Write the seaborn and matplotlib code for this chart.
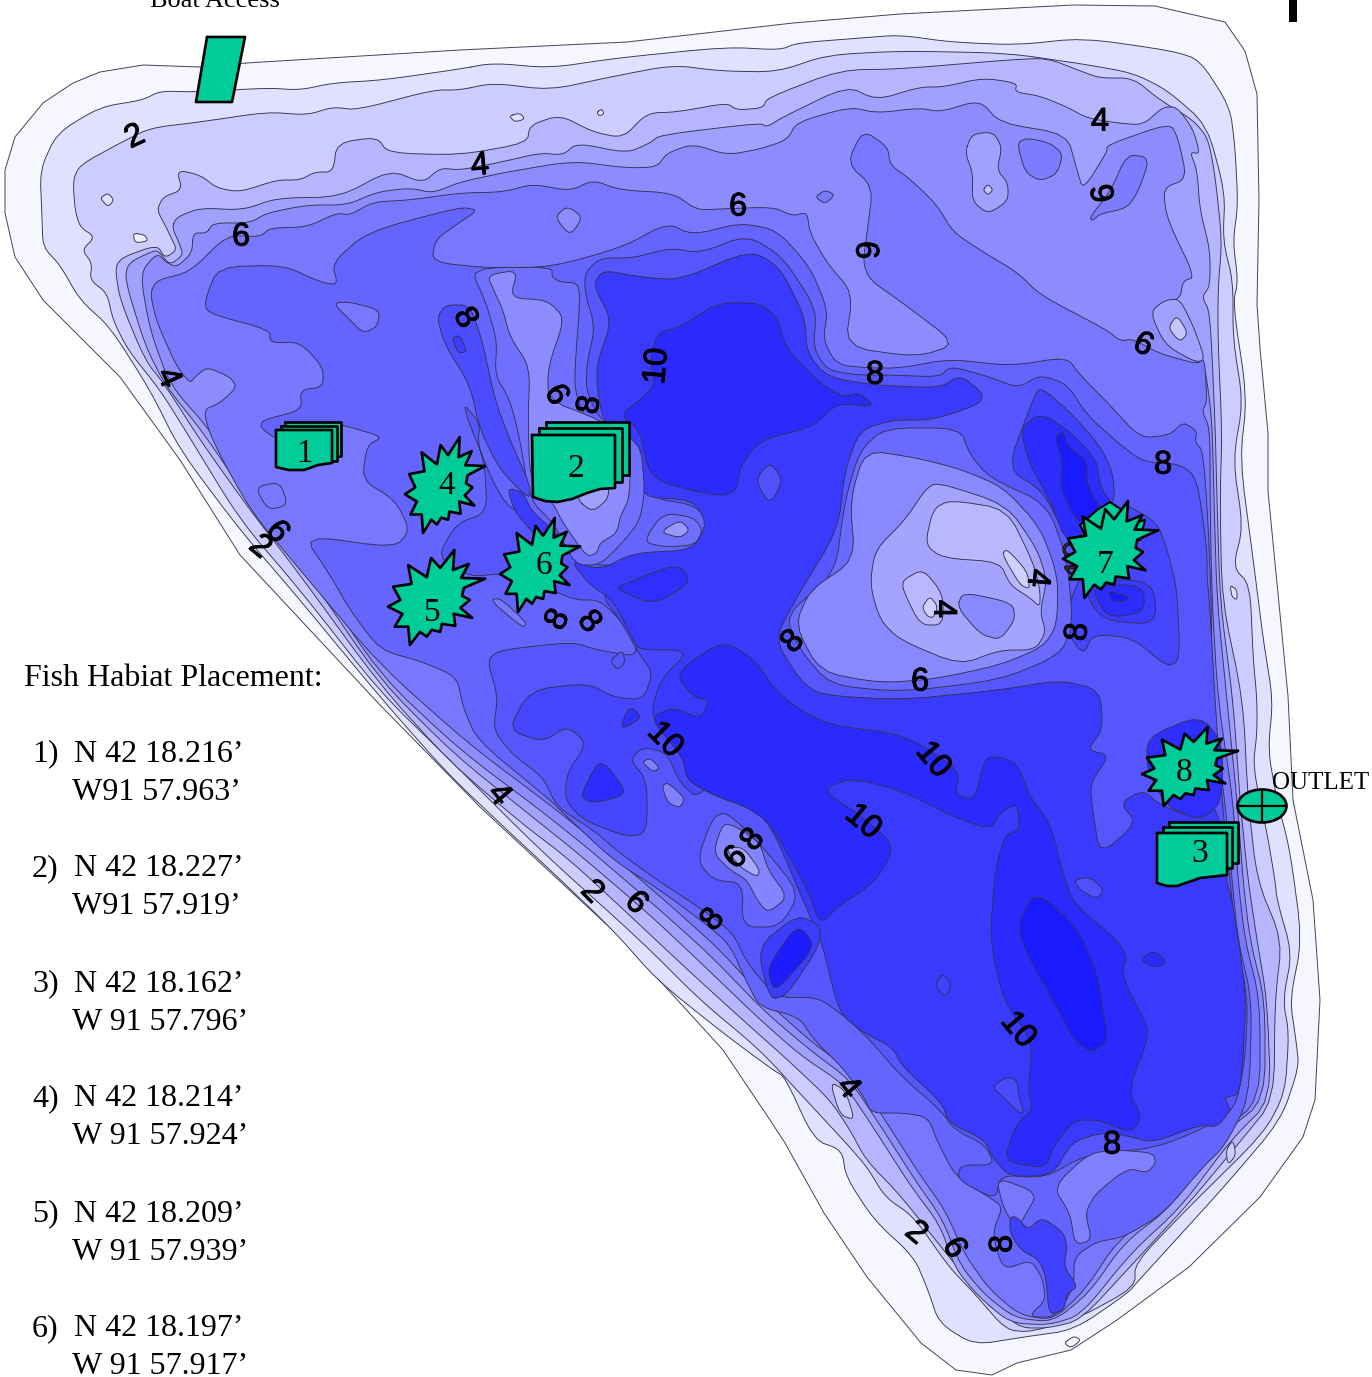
import matplotlib
matplotlib.use("Agg")
import matplotlib.pyplot as plt
import matplotlib.patheffects as pe
from matplotlib.patches import Ellipse
import seaborn as sns

sns.set_theme(style="white")
W, H = 1372, 1377
fig = plt.figure(figsize=(W / 100, H / 100), dpi=100)
ax = fig.add_axes([0, 0, 1, 1])
ax.set_xlim(0, W)
ax.set_ylim(H, 0)
ax.axis("off")

# ---- depth contours (outline points, px) ----
shore = [(246,63),(460,50),(627,42),(793,23),(900,14),(1073,5),(1155,6),(1225,22),(1245,51),(1257,94),(1259,201),(1257,304),(1260,348),(1268,433),(1268,491),(1288,696),(1293,800),(1313,900),(1320,1000),(1315,1100),(1303,1137),(1260,1197),(1189,1267),(1117,1320),(1071,1350),(1017,1363),(992,1375),(956,1370),(921,1343),(867,1277),(824,1213),(785,1143),(770,1120),(723,1050),(620,937),(480,807),(380,705),(240,555),(180,460),(120,377),(43,300),(15,257),(5,213),(5,170),(15,137),(43,103),(73,83),(100,72),(143,65),(200,67)]
d1 = [(460,69),(493,63),(550,68),(617,58),(727,47),(780,50),(797,43),(860,38),(900,35),(950,42),(1017,45),(1083,38),(1173,51),(1200,60),(1230,107),(1235,147),(1238,205),(1233,241),(1238,281),(1233,304),(1247,397),(1240,460),(1253,558),(1263,638),(1273,700),(1268,750),(1277,800),(1290,850),(1302,940),(1290,1000),(1296,1040),(1299,1067),(1281,1120),(1224,1187),(1139,1280),(1128,1293),(1074,1330),(1024,1337),(974,1345),(939,1323),(928,1290),(914,1257),(874,1220),(846,1177),(842,1150),(814,1140),(785,1077),(773,1070),(723,1033),(657,980),(613,930),(547,867),(507,830),(447,773),(380,697),(300,600),(240,530),(180,450),(150,390),(110,327),(80,300),(60,265),(43,247),(42,217),(40,170),(57,133),(100,107),(143,100),(160,91),(197,92),(267,88),(300,90),(333,83),(383,80)]
d2 = [(460,90),(493,83),(550,90),(610,77),(673,65),(720,71),(777,72),(827,55),(900,51),(1007,53),(1083,64),(1133,73),(1167,90),(1207,125),(1225,192),(1223,241),(1233,281),(1233,339),(1243,402),(1233,460),(1243,527),(1233,567),(1250,585),(1253,656),(1257,700),(1257,733),(1253,767),(1267,833),(1275,880),(1277,900),(1292,953),(1283,1000),(1289,1033),(1285,1093),(1264,1133),(1189,1207),(1135,1263),(1135,1287),(1081,1317),(1031,1332),(1006,1330),(974,1293),(949,1267),(914,1217),(885,1197),(867,1167),(846,1143),(806,1100),(760,1050),(700,1000),(640,940),(540,850),(450,760),(380,692),(300,590),(240,520),(187,433),(160,390),(128,350),(113,320),(107,293),(90,280),(92,263),(82,250),(95,237),(80,227),(75,210),(73,180),(80,165),(120,143),(150,128),(200,122),(267,112),(307,115),(333,107),(357,110),(433,90)]
d3 = [(460,155),(527,143),(530,125),(560,115),(593,132),(623,138),(647,113),(677,112),(727,103),(737,110),(763,108),(767,98),(840,70),(900,69),(1007,60),(1047,58),(1083,72),(1100,78),(1133,78),(1160,100),(1193,120),(1208,138),(1215,175),(1222,240),(1218,290),(1218,340),(1222,433),(1220,500),(1222,600),(1243,700),(1248,800),(1257,880),(1282,940),(1275,1000),(1274,1100),(1239,1143),(1189,1203),(1139,1257),(1081,1320),(1049,1328),(1021,1328),(999,1310),(971,1283),(949,1257),(900,1195),(866,1160),(850,1130),(830,1100),(790,1062),(745,1022),(690,972),(640,925),(570,860),(520,822),(450,762),(380,685),(300,575),(250,510),(200,440),(165,385),(145,360),(120,300),(115,267),(123,257),(157,245),(165,258),(177,250),(170,235),(165,225),(157,210),(163,197),(182,190),(177,170),(200,175),(217,188),(240,192),(277,180),(300,180),(315,172),(333,172),(337,143),(377,137),(388,153)]
d4 = [(172,227),(177,217),(200,208),(243,210),(277,198),(340,197),(390,170),(423,183),(440,168),(460,170),(497,163),(540,153),(563,155),(577,143),(627,153),(650,143),(660,135),(760,123),(767,127),(783,117),(847,86),(877,100),(920,87),(943,87),(983,78),(1017,83),(1015,92),(1040,96),(1067,107),(1087,118),(1117,123),(1143,125),(1163,107),(1177,107),(1193,129),(1200,154),(1190,152),(1197,170),(1200,210),(1210,250),(1210,286),(1202,297),(1210,312),(1215,420),(1217,500),(1220,600),(1233,700),(1240,800),(1248,880),(1257,940),(1267,1000),(1271,1100),(1231,1140),(1181,1207),(1131,1253),(1081,1315),(1049,1325),(1010,1323),(978,1296),(955,1268),(940,1225),(910,1185),(875,1130),(845,1085),(800,1055),(755,1015),(700,962),(650,915),(580,855),(530,815),(455,755),(380,680),(305,570),(255,510),(205,435),(165,385),(145,345),(125,280),(128,263),(155,250),(160,253),(170,265),(183,255),(180,245)]
d5 = [(207,233),(213,223),(250,223),(267,213),(307,205),(347,205),(377,192),(410,188),(433,193),(460,182),(507,172),(573,161),(627,168),(657,167),(667,153),(693,144),(727,155),(760,149),(787,140),(797,122),(850,107),(877,113),(920,108),(940,112),(980,100),(1000,123),(1067,134),(1077,170),(1083,190),(1107,152),(1107,145),(1170,123),(1178,138),(1187,179),(1163,188),(1167,219),(1195,277),(1183,281),(1180,299),(1150,312),(1167,344),(1197,362),(1205,366),(1212,420),(1214,500),(1217,600),(1227,700),(1237,800),(1243,880),(1250,940),(1265,1000),(1265,1100),(1224,1133),(1171,1207),(1124,1243),(1089,1293),(1053,1322),(1015,1318),(985,1295),(960,1265),(943,1220),(915,1180),(880,1125),(850,1080),(810,1050),(765,1012),(710,955),(660,910),(590,850),(540,810),(460,750),(380,675),(308,565),(258,505),(210,430),(170,385),(150,330),(140,273),(157,253),(167,263),(177,267),(192,253),(193,233)]
d6 = [(150,293),(157,280),(190,272),(227,235),(260,237),(270,228),(307,227),(337,213),(350,215),(373,202),(410,200),(460,193),(503,192),(533,184),(570,191),(593,180),(620,190),(673,193),(697,210),(720,209),(773,207),(793,216),(807,212),(810,233),(827,263),(853,293),(845,347),(917,357),(957,344),(900,301),(870,280),(863,263),(867,233),(873,187),(847,163),(863,130),(888,147),(890,165),(910,179),(937,205),(953,232),(983,252),(1017,272),(1040,295),(1107,330),(1120,341),(1133,339),(1158,353),(1197,364),(1203,359),(1205,366),(1207,402),(1202,411),(1210,429),(1210,500),(1212,600),(1218,700),(1233,800),(1238,880),(1245,940),(1260,1000),(1260,1100),(1220,1133),(1165,1207),(1118,1240),(1085,1290),(1053,1320),(1020,1315),(990,1290),(965,1255),(945,1210),(920,1175),(885,1120),(855,1073),(815,1045),(770,1005),(720,950),(670,905),(600,845),(550,805),(470,745),(380,665),(300,570),(250,510),(212,440),(203,410),(220,403),(237,387),(230,377),(207,367),(195,377),(190,383),(177,367),(157,323)]
d7 = [(218,267),(283,265),(320,282),(338,285),(332,263),(367,232),(460,207),(478,210),(460,222),(435,240),(432,262),(487,268),(552,267),(623,247),(667,223),(693,235),(740,223),(777,230),(810,267),(828,310),(823,340),(837,365),(870,368),(900,368),(950,359),(1010,366),(1067,357),(1080,375),(1107,402),(1140,438),(1170,435),(1183,422),(1197,431),(1195,442),(1203,451),(1208,520),(1212,620),(1210,700),(1225,800),(1232,880),(1238,940),(1252,1000),(1249,1100),(1224,1147),(1203,1167),(1164,1213),(1124,1237),(1096,1242),(1074,1257),(1074,1287),(1056,1317),(1028,1317),(1046,1300),(1042,1277),(1031,1260),(1003,1270),(992,1233),(1003,1207),(989,1197),(956,1177),(938,1143),(928,1117),(903,1113),(871,1113),(864,1097),(842,1067),(814,1040),(799,1017),(760,1007),(748,985),(730,945),(707,925),(660,890),(613,860),(563,813),(550,800),(477,740),(463,707),(457,677),(423,662),(380,650),(350,610),(330,575),(303,535),(395,548),(410,530),(395,500),(362,480),(367,445),(383,437),(350,427),(340,425),(310,440),(277,440),(260,427),(263,420),(302,410),(300,390),(323,387),(323,367),(300,342),(270,343),(270,330),(207,313),(205,300)]
d8 = [(585,273),(600,258),(633,258),(670,248),(700,253),(747,235),(783,257),(817,310),(813,347),(827,370),(857,375),(890,375),(940,377),(950,366),(990,377),(1018,388),(1040,375),(1067,384),(1087,415),(1117,442),(1143,462),(1180,464),(1197,478),(1207,549),(1207,576),(1210,610),(1215,700),(1222,800),(1230,880),(1236,940),(1248,1000),(1245,1060),(1235,1110),(1200,1130),(1155,1148),(1085,1155),(1045,1178),(1000,1175),(996,1200),(958,1180),(960,1165),(995,1165),(985,1145),(955,1130),(940,1110),(900,1075),(870,1040),(843,1015),(817,997),(777,998),(747,963),(733,933),(703,910),(657,880),(620,853),(593,830),(557,807),(543,777),(513,755),(493,730),(498,697),(487,660),(500,650),(573,642),(597,650),(640,657),(625,625),(600,600),(575,600),(540,585),(505,573),(470,577),(437,557),(457,523),(487,513),(485,467),(478,443),(480,423),(460,400),(500,500),(530,520),(560,540),(590,565),(620,565),(690,555),(710,525),(695,505),(650,498),(640,445),(600,420),(586,390),(587,363),(595,327),(585,293)]
d8b = [(508,730),(530,690),(587,683),(613,697),(643,700),(653,673),(640,655),(620,620),(600,593),(640,560),(700,600),(780,700),(700,800),(680,783),(667,753),(643,747),(630,760),(647,780),(647,833),(627,837),(583,820),(565,800),(567,773),(587,743),(567,726),(543,742)]
d9 = [(593,285),(603,270),(640,277),(680,280),(750,250),(780,267),(805,317),(807,353),(827,377),(873,385),(940,388),(960,375),(983,393),(980,404),(933,420),(893,420),(860,430),(845,470),(838,530),(795,600),(775,640),(800,680),(820,695),(900,700),(1000,690),(1060,680),(1100,690),(1103,730),(1087,750),(1110,755),(1090,783),(1093,813),(1100,855),(1137,823),(1120,803),(1143,790),(1160,805),(1200,820),(1218,805),(1226,880),(1232,900),(1240,950),(1246,1000),(1243,1060),(1239,1095),(1224,1097),(1231,1110),(1217,1127),(1199,1125),(1153,1143),(1124,1135),(1099,1133),(1071,1143),(1053,1175),(1010,1177),(992,1157),(985,1140),(949,1123),(942,1103),(903,1067),(892,1047),(864,1033),(839,1013),(823,947),(817,933),(805,905),(770,823),(747,807),(713,795),(687,780),(683,757),(650,718),(660,680),(690,650),(640,650),(633,640),(613,600),(590,585),(570,560),(600,570),(633,553),(693,550),(707,523),(693,500),(640,497),(633,453),(603,420),(597,387),(597,363),(612,320)]
d10_north = [(657,333),(680,327),(717,303),(760,303),(777,317),(787,350),(820,383),(843,397),(860,393),(875,407),(837,403),(813,427),(760,440),(740,467),(737,490),(720,497),(650,480),(640,430),(620,415),(640,400),(655,385),(650,360)]
d10_south = [(675,673),(723,640),(755,660),(775,690),(800,710),(830,725),(905,735),(960,770),(955,795),(975,800),(985,757),(1000,757),(1017,763),(1030,797),(1050,823),(1063,873),(1073,903),(1117,940),(1127,957),(1122,973),(1133,1000),(1151,1032),(1128,1090),(1142,1117),(1131,1133),(1099,1120),(1074,1120),(1053,1147),(1046,1168),(1010,1163),(1006,1153),(1017,1123),(1033,1110),(1028,1090),(1033,1043),(1003,1000),(990,940),(995,870),(1005,835),(1020,830),(1017,803),(1000,813),(990,830),(950,815),(900,790),(850,778),(822,790),(860,815),(895,845),(880,875),(860,893),(840,905),(820,925),(808,890),(770,823),(747,807),(713,795),(687,780),(683,757),(650,718),(673,707),(700,719),(710,700),(693,697)]
deep_lobe = [(1017,927),(1035,890),(1077,927),(1097,973),(1103,1010),(1108,1040),(1092,1053),(1074,1040),(1053,1000),(1030,960)]

# ---- central island ----
isle_a = [(860,450),(885,428),(960,428),(970,455),(990,478),(1047,504),(1067,558),(1073,625),(1060,655),(1000,680),(900,692),(830,685),(800,650),(785,615),(835,575),(845,500)]
isle_b = [(865,450),(917,458),(960,469),(1003,487),(1040,527),(1058,576),(1057,625),(1043,647),(1000,665),(935,679),(880,683),(820,672),(795,625),(810,590),(855,560),(850,500)]
isle_c = [(870,585),(875,550),(905,520),(925,490),(937,482),(1007,505),(1037,549),(1047,580),(1040,612),(1046,632),(1035,650),(1000,650),(960,665),(900,640),(880,620)]
isle_d = [(957,607),(963,592),(1013,603),(1015,620),(1000,640),(980,634)]
isle_e = [(925,545),(933,509),(950,500),(1007,509),(1033,562),(1040,590),(1040,607),(1030,598),(1010,585),(1000,562),(943,558)]
isle_f = [(903,580),(923,569),(943,594),(943,625),(920,625),(903,590)]
isle_g = [(922,607),(930,596),(938,607),(933,618),(927,616)]
isle_h = [(1002,554),(1007,549),(1027,571),(1030,589),(1020,585)]

# ---- east basin ----
east_se = [(1117,500),(1157,522),(1167,549),(1177,589),(1180,660),(1167,667),(1133,638),(1093,634),(1083,656),(1060,620)]
east_a = [(1007,469),(1032,402),(1040,386),(1073,415),(1100,446),(1113,473),(1115,505),(1065,535),(1043,491)]
east_b = [(1020,429),(1040,413),(1067,429),(1097,460),(1100,487),(1113,505),(1100,520),(1067,545),(1050,500),(1030,465)]
east_c = [(1055,437),(1063,431),(1067,446),(1087,460),(1087,487),(1107,518),(1080,527),(1060,487),(1063,464)]
south7_a = [(1080,580),(1153,580),(1157,625),(1100,620)]
south7_b = [(1090,585),(1143,585),(1145,612),(1107,618)]
south7_c = [(1107,590),(1133,598),(1113,603)]

# ---- habitat-2 shoal ----
shoal_ring = [(470,268),(552,267),(552,277),(560,282),(578,283),(580,300),(575,367),(575,390),(585,420),(640,440),(645,490),(640,520),(625,540),(600,565),(575,565),(555,525),(530,500),(520,440),(510,400),(495,375),(497,340),(485,300)]
shoal = [(487,275),(518,270),(510,298),(547,300),(565,318),(548,367),(548,400),(600,420),(630,440),(630,497),(620,517),(617,533),(600,543),(597,553),(587,557),(563,523),(553,503),(530,480),(528,420),(530,367),(510,337),(503,310),(495,293)]
shoal_in = [(577,500),(593,512),(610,497),(605,470),(580,470)]
strip8 = [(437,318),(445,305),(470,305),(482,340),(495,400),(510,440),(530,485),(530,500),(500,470),(480,430),(470,385),(445,345)]
pond8 = [(452,338),(460,335),(467,352),(458,353)]
strip9 = [(507,488),(523,492),(532,512),(560,535),(560,555),(535,535),(515,512)]

# ---- other patches ----
blob_a = [(965,152),(972,134),(993,132),(1002,147),(997,170),(1008,183),(1008,201),(988,214),(972,201),(973,174)]
blob_a2 = [(983,190),(988,184),(993,190),(988,195)]
blob_b = [(1017,143),(1027,138),(1050,143),(1063,154),(1057,174),(1040,181),(1025,172)]
blob_c = [(1127,154),(1150,158),(1138,192),(1127,208),(1100,214),(1092,221),(1090,217),(1110,192)]
knob_a = [(1150,312),(1165,300),(1180,299),(1195,330),(1205,360),(1195,362),(1165,345)]
knob_b = [(1168,328),(1177,315),(1188,333),(1180,342)]
dot_a = [(100,198),(108,193),(114,200),(108,207)]
dot_b = [(133,233),(145,235),(148,241),(135,243)]
dot_c = [(509,116),(520,113),(525,119),(515,122)]
dot_d = [(597,112),(602,109),(604,114),(599,116)]
hill_a = [(555,217),(567,206),(583,217),(570,236)]
hill_b = [(815,197),(825,190),(835,195),(825,204)]
west_a = [(333,303),(350,302),(380,310),(377,327),(363,333),(350,320)]
west_b = [(255,487),(280,482),(288,505),(268,510)]
mid_a = [(755,480),(770,462),(783,480),(770,505)]
ring_a = [(643,542),(663,513),(693,517),(703,530),(695,545),(665,547)]
ring_b = [(660,532),(680,520),(690,530),(680,538)]
blue_a = [(617,587),(677,563),(692,582),(653,605),(620,590)]
west_c = [(490,600),(500,598),(527,623),(523,628)]
west_d = [(610,660),(623,650),(625,663),(617,670)]
pond_a = [(580,797),(597,763),(607,765),(625,790),(620,797),(593,803)]
pond_b = [(620,730),(627,710),(633,708),(642,718)]
knot_a = [(642,762),(650,758),(660,768),(653,772)]
knot_b = [(662,787),(667,782),(685,798),(680,808),(668,803)]
hump_a = [(697,860),(713,817),(727,812),(763,847),(800,893),(780,927),(742,927),(743,883),(713,880)]
hump_b = [(713,853),(723,823),(737,827),(760,843),(768,870),(788,897),(768,913),(757,900),(747,880),(730,870)]
hump_c = [(725,848),(743,847),(760,870),(757,877),(740,867)]
pit_a = [(757,947),(797,915),(820,925),(820,945),(787,995),(770,1000)]
pit_b = [(767,968),(793,930),(803,929),(815,947),(780,987),(773,988)]
oval_a = [(935,985),(943,973),(952,985),(945,998)]
oval_b = [(1140,960),(1153,950),(1167,962),(1157,968)]
oval_c = [(1074,880),(1090,877),(1104,890),(1097,899),(1080,890)]
lobe_a = [(992,1087),(1006,1077),(1017,1080),(1019,1097),(1024,1112),(1019,1113),(1003,1097)]
pond_8 = [(1147,737),(1200,715),(1223,743),(1222,803),(1200,820),(1167,807),(1147,770)]
south_a = [(1053,1187),(1089,1153),(1120,1150),(1153,1153),(1156,1163),(1147,1173),(1128,1168),(1096,1193),(1085,1213),(1092,1240),(1075,1245),(1070,1213)]
south_b = [(996,1177),(1038,1193),(1024,1217),(1017,1230),(1003,1207)]
south_c = [(1010,1217),(1017,1217),(1028,1230),(1042,1217),(1064,1233),(1067,1247),(1064,1267),(1078,1287),(1067,1293),(1064,1310),(1049,1315),(1046,1277),(1039,1260),(1021,1250),(1010,1233)]
pale_a = [(1064,1343),(1074,1336),(1081,1340),(1071,1348)]
pale_b = [(830,1082),(845,1090),(855,1120),(840,1115)]
pale_c = [(1226,1150),(1233,1140),(1236,1155),(1228,1165)]
pale_d = [(1230,585),(1237,590),(1237,600),(1232,597)]

contours = [
    (d1, "#e0e0ff"), (d2, "#ccccff"), (d3, "#b6b6ff"),
    (d4, "#a0a0ff"), (d5, "#8c8cff"), (d6, "#7878ff"), (d7, "#6464ff"),
    (west_a, "#7878ff"), (west_b, "#7878ff"), (hill_a, "#8c8cff"), (hill_b, "#7878ff"),
    (blob_a, "#a0a0ff"), (blob_a2, "#c4c4ff"), (blob_b, "#7c7cff"), (blob_c, "#7c7cff"),
    (knob_a, "#a0a0ff"), (knob_b, "#c4c4ff"), (dot_a, "#e0e0ff"), (dot_b, "#eeeeff"),
    (dot_c, "#e0e0ff"), (dot_d, "#e0e0ff"), (pale_a, "#f6f6ff"), (pale_b, "#ccccff"),
    (pale_c, "#ccccff"), (pale_d, "#e0e0ff"),
    (d8, "#5656ff"), (d8b, "#4646ff"), (east_se, "#4646ff"), (d9, "#3a3aff"),
    (d10_north, "#2a2aff"), (d10_south, "#2a2aff"), (deep_lobe, "#1a1aff"),
    (isle_a, "#6a6aff"), (isle_b, "#8888ff"), (isle_c, "#a4a4ff"), (isle_d, "#8888ff"),
    (isle_e, "#b8b8ff"), (isle_f, "#b8b8ff"), (isle_g, "#d0d0ff"), (isle_h, "#d0d0ff"),
    (east_a, "#4040ff"), (east_b, "#2c2cff"), (east_c, "#1a1aff"),
    (south7_a, "#3a3aff"), (south7_b, "#2c2cff"), (south7_c, "#1a1aff"),
    (shoal_ring, "#7070ff"), (shoal, "#8c8cff"), (shoal_in, "#a0a0ff"),
    (strip8, "#4c4cff"), (pond8, "#3c3cff"), (strip9, "#3c3cff"),
    (mid_a, "#5050ff"), (ring_a, "#7070ff"), (ring_b, "#9898ff"), (blue_a, "#2e2eff"),
    (west_c, "#7878ff"), (west_d, "#5656ff"), (pond_a, "#2c2cff"), (pond_b, "#3030ff"),
    (knot_a, "#8080ff"), (knot_b, "#8080ff"), (hump_a, "#6666ff"), (hump_b, "#8484ff"),
    (hump_c, "#a8a8ff"), (pit_a, "#3c3cff"), (pit_b, "#1c1cff"), (oval_a, "#4040ff"),
    (oval_b, "#2a2aff"), (oval_c, "#5050ff"), (lobe_a, "#4a4aff"), (pond_8, "#2e2eff"),
    (south_a, "#8080ff"), (south_b, "#7878ff"), (south_c, "#4040ff"),
]

# ---- habitat markers ----
boat_ramp = [(207,37),(245,37),(232,102),(196,102)]
stack_1 = [[(285,422),(341,422),(341,456),(285,456)], [(281,426),(337,426),(337,461),(281,461)], [(276,430),(332,430),(332,463),(318,465),(304,470),(289,470),(276,467)]]
stack_2 = [[(546,422),(629,422),(629,475),(546,475)], [(539,428),(622,428),(622,482),(539,482)], [(532,435),(615,435),(615,488),(600,489),(587,493),(572,499),(557,502),(545,501),(533,497)]]
stack_3 = [[(1169,822),(1238,822),(1238,863),(1169,863)], [(1163,827),(1232,827),(1232,868),(1163,868)], [(1157,833),(1227,833),(1227,875),(1200,878),(1177,886),(1167,886),(1157,883)]]
burst_shape = [(713,152),(642,150),(665,115),(618,130),(622,80),(580,125),(553,100),(540,148),(485,118),(495,165),(440,172),(462,205),(425,222),(468,240),(445,272),(485,272),(490,318),(520,285),(540,297),(555,280),(580,285),(585,265),(625,270),(620,240),(675,250),(640,225),(668,205),(645,195),(650,175)]
burst_boxes = [(405,437,485,533), (388,550,485,645), (500,518,580,612), (1063,501,1158,598), (1142,727,1238,806)]
burst_names = ["4", "5", "6", "7", "8"]
burst_text_xy = [(447,486), (432,613), (544,566), (1105,565), (1184,773)]
behind_7 = [(1097,510),(1110,502),(1122,510),(1125,525),(1145,520),(1140,540),(1085,535),(1080,525)]
stack_names = ["1", "2", "3"]
stack_text_xy = [(304,454), (576,469), (1200,854)]

# ---- depth labels ----
depth_text = ["2","4","6","6","4","6","6","8","6","4","10","6","8","8","8","8","4","4","8","6","10","10","10","10","6","2","8","8","4","2","6","8","6","8","4","8","2","6","8"]
depth_x = [135,480,241,738,1100,1105,865,465,1143,168,657,556,590,875,1163,793,1037,943,1078,920,933,863,665,1018,277,260,558,589,499,592,636,713,736,753,848,1112,916,954,1003]
depth_y = [137,166,237,207,122,193,250,318,345,378,366,395,405,375,465,642,578,609,632,682,760,822,740,1030,532,547,620,622,795,892,903,920,858,840,1088,1145,1233,1248,1244]
depth_rot = [25,5,0,0,0,100,-90,-60,-25,-65,85,-60,80,0,0,45,-95,-90,85,0,-50,-40,-45,-50,-50,-40,60,-50,-50,-45,-45,50,45,50,-50,0,-40,-60,90]

# ---- text block ----
heading = "Fish Habiat Placement:"
entry_num = ["1)", "2)", "3)", "4)", "5)", "6)"]
entry_lat = ["N 42 18.216’", "N 42 18.227’", "N 42 18.162’", "N 42 18.214’", "N 42 18.209’", "N 42 18.197’"]
entry_lon = ["W91 57.963’", "W91 57.919’", "W 91 57.796’", "W 91 57.924’", "W 91 57.939’", "W 91 57.917’"]
entry_y = [754, 869, 984, 1099, 1214, 1329]
entry_lon_y = [792, 907, 1022, 1137, 1252, 1367]


def soften(points, rounds=2):
    """Round off polygon corners for drawing."""
    pts = list(points)
    for _ in range(rounds):
        out = []
        for i, (x0, y0) in enumerate(pts):
            x1, y1 = pts[(i + 1) % len(pts)]
            out.append((0.8 * x0 + 0.2 * x1, 0.8 * y0 + 0.2 * y1))
            out.append((0.2 * x0 + 0.8 * x1, 0.2 * y0 + 0.8 * y1))
        pts = out
    return pts


def outline(points, color, lw, z):
    xs = [p[0] for p in points] + [points[0][0]]
    ys = [p[1] for p in points] + [points[0][1]]
    sns.lineplot(x=xs, y=ys, sort=False, estimator=None, color=color, linewidth=lw, ax=ax, zorder=z, legend=False)


ax.fill([p[0] for p in shore], [p[1] for p in shore], color="#f6f6ff", lw=0, zorder=0.9)
outline(shore, "#444455", 0.7, 0.95)
z = 1.0
for pts, col in contours:
    smooth = soften(pts)
    ax.fill([p[0] for p in smooth], [p[1] for p in smooth], color=col, lw=0, zorder=z)
    outline(smooth, "#33334d", 0.65, z + 0.001)
    z += 0.01

GREEN = "#00cc99"


def marker(points, z=10, lw=1.9):
    ax.fill([p[0] for p in points], [p[1] for p in points], color=GREEN, lw=0, zorder=z)
    outline(points, "black", lw, z + 0.001)


marker(boat_ramp)
for stack in (stack_1, stack_2, stack_3):
    for i, sheet in enumerate(stack):
        marker(sheet, z=10 + 0.01 * i)

marker(behind_7, z=9.5, lw=1.5)
xs0 = [p[0] for p in burst_shape]
ys0 = [p[1] for p in burst_shape]
for (x0, y0, x1, y1) in burst_boxes:
    sx = (x1 - x0) / (max(xs0) - min(xs0))
    sy = (y1 - y0) / (max(ys0) - min(ys0))
    marker([(x0 + (a - min(xs0)) * sx, y0 + (b - min(ys0)) * sy) for a, b in burst_shape], z=10.2)

SANS = "Liberation Sans"
SERIF = "Liberation Serif"
heavy = [pe.withStroke(linewidth=0.7, foreground="black")]
for t, x, y, r in zip(depth_text, depth_x, depth_y, depth_rot):
    ax.text(x, y, t, fontsize=23.5, family=SANS, color="black", rotation=r,
            rotation_mode="anchor", ha="center", va="center", zorder=9, path_effects=heavy)
ax.text(1078, 558, "10", fontsize=23.5, family=SANS, rotation=95, rotation_mode="anchor",
        ha="center", va="center", zorder=9, path_effects=heavy)

for t, (x, y) in zip(stack_names + burst_names, stack_text_xy + burst_text_xy):
    ax.text(x, y, t, fontsize=24, family=SERIF, color="black", ha="center", va="center", zorder=11)

outlet = Ellipse((1262, 806), 49, 33, facecolor=GREEN, edgecolor="black", lw=1.9, zorder=10)
ax.add_patch(outlet)
sns.lineplot(x=[1238, 1286], y=[806, 806], color="black", linewidth=1.6, ax=ax, zorder=11)
sns.lineplot(x=[1262, 1262], y=[790, 822], sort=False, estimator=None, color="black", linewidth=1.6, ax=ax, zorder=11)
ax.text(1272, 783, "OUTLET", fontsize=18, family=SERIF, color="black", ha="left", va="center", zorder=11)

ax.text(215, 1, "Boat Access", fontsize=19, family=SERIF, color="black", ha="center", va="center", zorder=11)
ax.fill_between([1289, 1297], 0, 22, color="black", lw=0, zorder=11)

ax.text(24, 678, heading, fontsize=23, family=SERIF, color="black", ha="left", va="center")
for n, lat, lon, y, y2 in zip(entry_num, entry_lat, entry_lon, entry_y, entry_lon_y):
    ax.text(32, y, n, fontsize=23, family=SERIF, color="black", ha="left", va="center")
    ax.text(74, y, lat, fontsize=23, family=SERIF, color="black", ha="left", va="center")
    ax.text(72, y2, lon, fontsize=23, family=SERIF, color="black", ha="left", va="center")

ax.set_xlim(0, W)
ax.set_ylim(H, 0)
ax.set_xlabel("")
ax.set_ylabel("")
fig.savefig("out.png", dpi=100)
